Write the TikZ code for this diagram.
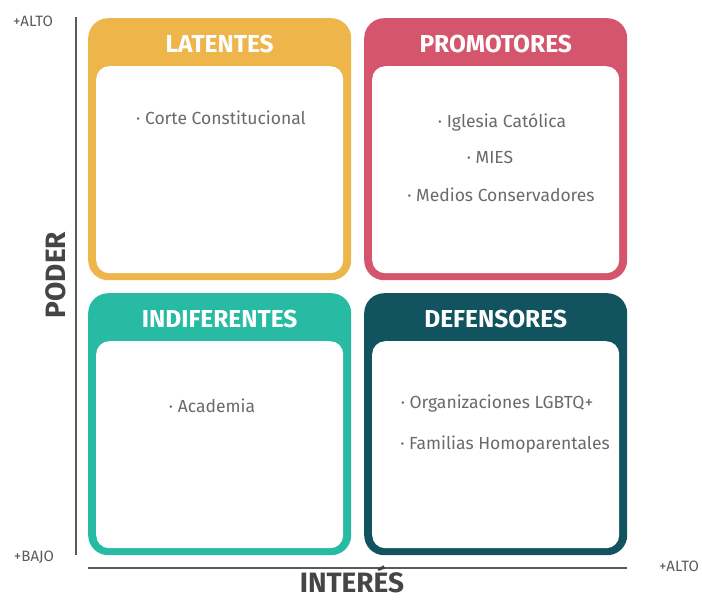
\documentclass[tikz,border=0pt]{standalone}
\usepackage{fontspec}
\setmainfont{Fira Sans}
\usetikzlibrary{positioning}
\definecolor{latcol}{HTML}{EDB54A}
\definecolor{procol}{HTML}{D5566C}
\definecolor{indcol}{HTML}{28BBA4}
\definecolor{defcol}{HTML}{11535F}
\definecolor{itemgray}{HTML}{6A6A6A}
\definecolor{axisgray}{HTML}{5A5A5A}
\definecolor{labgray}{HTML}{454545}
\tikzset{
  quad/.style={fill=#1, rounded corners=20pt, minimum width=263pt, minimum height=262pt,
    anchor=north west, inner sep=0pt},
  innerbox/.style={fill=white, rounded corners=13pt, minimum width=247pt, minimum height=207pt,
    anchor=north, inner sep=0pt},
  quadtitle/.style={text=white, font=\bfseries\fontsize{24.5}{24.5}\selectfont},
  item/.style={text=itemgray, font=\fontsize{17.5}{17.5}\selectfont},
  axis/.style={draw=axisgray, line width=1.4pt},
  tick/.style={text=axisgray, font=\fontsize{15}{15}\selectfont},
  axlabel/.style={text=labgray, inner sep=0pt, font=\bfseries\fontsize{28}{28}\selectfont}
}
\begin{document}
\begin{tikzpicture}[x=1pt,y=-1pt]
\useasboundingbox (0,0) rectangle (702,600);
% quadrants
\node[quad=latcol] (lat) at (88,18) {};
\node[quad=procol] (pro) at (364,18) {};
\node[quad=indcol] (ind) at (88,293) {};
\node[quad=defcol] (def) at (364,293) {};
\node[innerbox, below=48pt of lat.north] (latin) {};
\node[innerbox, below=48pt of pro.north] (proin) {};
\node[innerbox, below=48pt of ind.north] (indin) {};
\node[innerbox, below=48pt of def.north] (defin) {};
\node[quadtitle] (lattitle) at ([yshift=-26pt]lat.north) {LATENTES};
\node[quadtitle] (protitle) at ([yshift=-26pt]pro.north) {PROMOTORES};
\node[quadtitle] (indtitle) at ([yshift=-26pt]ind.north) {INDIFERENTES};
\node[quadtitle] (deftitle) at ([yshift=-26pt]def.north) {DEFENSORES};
% actors
\node[item] (latA) at (221,118) {· Corte Constitucional};
\node[item] (proA) at (502,122) {· Iglesia Católica};
\node[item] (proB) at (490,157) {· MIES};
\node[item] (proC) at (501,195) {· Medios Conservadores};
\node[item] (indA) at (212,406) {· Academia};
\node[item] (defA) at (497,404) {· Organizaciones LGBTQ+};
\node[item] (defB) at (505,445) {· Familias Homoparentales};
% axes
\coordinate (ytop) at (76,17);
\coordinate (ybot) at (76,555);
\coordinate (xleft) at (88,568);
\coordinate (xright) at (627,568);
\draw[axis] (ytop) -- (ybot);
\draw[axis] (xleft) -- (xright);
\node[tick] (yhigh) at (33,21) {+ALTO};
\node[tick] (ylow) at (34,557) {+BAJO};
\node[tick] (xhigh) at (679,566) {+ALTO};
\node[axlabel, rotate=90] (poder) at (56,275) {PODER};
\node[axlabel] (interes) at (352,579) {INTERÉS};
\end{tikzpicture}
\end{document}
